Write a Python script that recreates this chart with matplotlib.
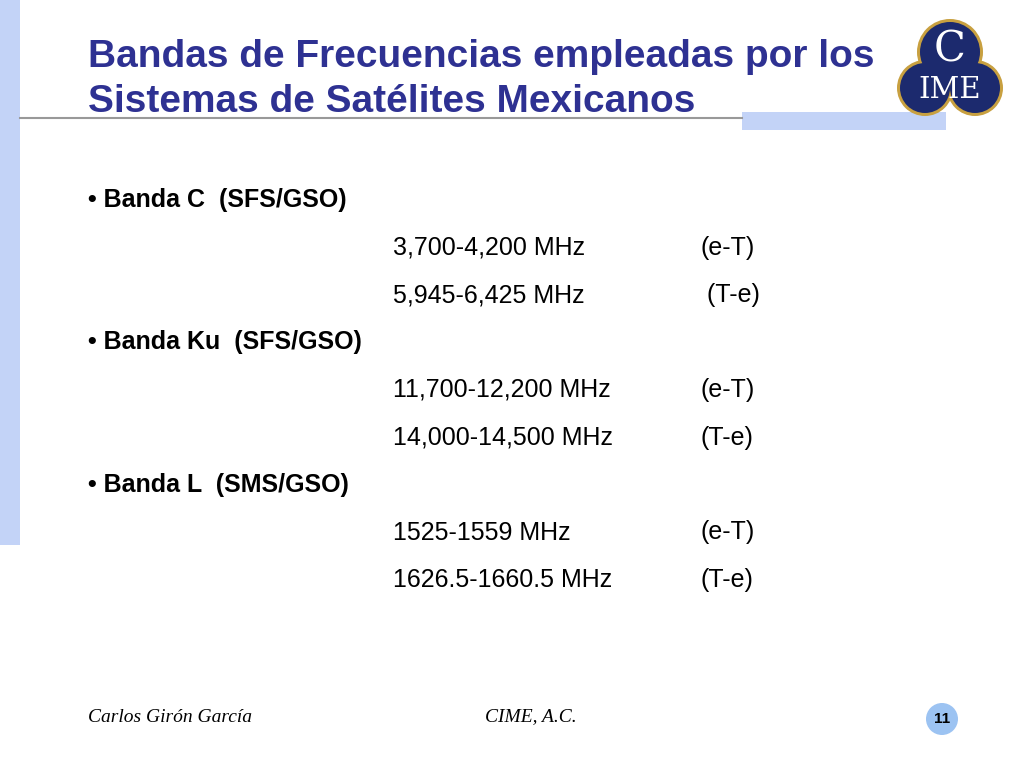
import matplotlib
matplotlib.use("Agg")
import matplotlib.pyplot as plt
from matplotlib.patches import Rectangle, Circle

TITLE = ["Bandas de Frecuencias empleadas por los", "Sistemas de Satélites Mexicanos"]
BANDS = ["Banda C  (SFS/GSO)", "Banda Ku  (SFS/GSO)", "Banda L  (SMS/GSO)"]
RANGES = [["3,700-4,200 MHz", "5,945-6,425 MHz"],
          ["11,700-12,200 MHz", "14,000-14,500 MHz"],
          ["1525-1559 MHz", "1626.5-1660.5 MHz"]]
DIRS = [["(e-T)", " (T-e)"], ["(e-T)", "(T-e)"], ["(e-T)", "(T-e)"]]
FOOTER = ["Carlos Girón García", "CIME, A.C.", "11"]

BLUE = "#2e3192"
PALE = "#c3d3f7"

fig = plt.figure(figsize=(10.24, 7.68), dpi=100)
ax = fig.add_axes([0, 0, 1, 1])
ax.set_xlim(0, 1024)
ax.set_ylim(768, 0)
ax.axis("off")

#slide decoration
ax.add_patch(Rectangle((0, 0), 20, 545, color=PALE, lw=0))
ax.plot([20, 742], [118, 118], color="#999999", lw=1.5)
ax.add_patch(Rectangle((742, 112), 204, 18, color=PALE, lw=0))

#logo, three circles with gold rims
circles = [(950, 52, 30), (925, 88, 25), (975, 88, 25)]
for cx, cy, r in circles:
    ax.add_patch(Circle((cx, cy), r + 3, color="#c8a040", lw=0))
for cx, cy, r in circles:
    ax.add_patch(Circle((cx, cy), r, color="#1c2a6e", lw=0))
ax.text(950, 50, "C", color="white", fontsize=30, ha="center", va="center",
        family="DejaVu Serif")
ax.text(950, 90, "IME", color="white", fontsize=21, ha="center", va="center",
        family="DejaVu Serif")

for i, line in enumerate(TITLE):
    ax.text(88, 57 + 45 * i, line, color=BLUE, fontsize=28, weight="bold",
            va="center", family="Liberation Sans")

y = 200
for band, rng, dr in zip(BANDS, RANGES, DIRS):
    ax.text(88, y, "• " + band, fontsize=18, weight="bold", va="center",
            family="Liberation Sans")
    y += 47.5
    for r, d in zip(rng, dr):
        ax.text(393, y, r, fontsize=18, va="center", family="Liberation Sans")
        ax.text(700, y, d, fontsize=18, va="center", family="Liberation Sans")
        y += 47.5

ax.text(88, 717, FOOTER[0], fontsize=14, style="italic", va="center",
        family="Liberation Serif")
ax.text(485, 717, FOOTER[1], fontsize=14, style="italic", va="center",
        family="Liberation Serif")
ax.add_patch(Circle((942, 719), 16, color="#9cc3f2", lw=0))
ax.text(942, 719, FOOTER[2], fontsize=11, weight="bold", ha="center",
        va="center", family="Liberation Sans")

fig.savefig("out.png", dpi=100)
